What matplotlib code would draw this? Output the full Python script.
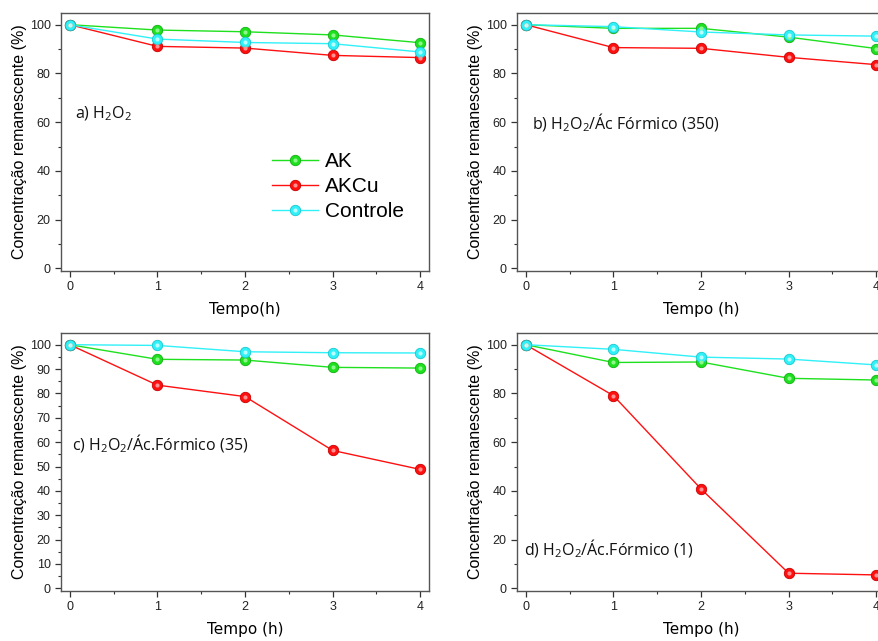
import numpy as np
import matplotlib.pyplot as plt
from matplotlib.ticker import MultipleLocator

plt.rcParams['font.family'] = 'Liberation Sans'

tempo = [0, 1, 2, 3, 4]

# a) H2O2
a_ak = [100, 97.8, 97.1, 95.8, 92.6]
a_akcu = [100, 91.1, 90.4, 87.4, 86.5]
a_ctrl = [100, 94.1, 92.7, 92.2, 88.8]

# b) H2O2 / acido formico (350)
b_ak = [100, 98.5, 98.5, 94.9, 90.2]
b_akcu = [100, 90.6, 90.3, 86.6, 83.6]
b_ctrl = [100, 99.2, 97.0, 95.8, 95.3]

# c) H2O2 / acido formico (35)
c_ak = [100, 94.0, 93.7, 90.7, 90.4]
c_akcu = [100, 83.4, 78.7, 56.6, 48.8]
c_ctrl = [100, 99.7, 97.1, 96.7, 96.6]

# d) H2O2 / acido formico (1)
d_ak = [100, 92.7, 92.9, 86.2, 85.5]
d_akcu = [100, 79.1, 40.8, 6.2, 5.5]
d_ctrl = [100, 98.1, 94.9, 94.1, 91.7]

nomes = ['AK', 'AKCu', 'Controle']
cores = ['#1ee01e', '#ff1010', '#30f0f8']
bordas = ['#10b010', '#c80000', '#18c8d0']
brilho = ['#8cf88c', '#ff9090', '#b8ffff']

paineis = [
    (a_ak, a_akcu, a_ctrl, r'a) $\mathregular{H_2O_2}$', 'Tempo(h)', 20, 10),
    (b_ak, b_akcu, b_ctrl, r'b) $\mathregular{H_2O_2}$/Ác Fórmico (350)', 'Tempo (h)', 20, 10),
    (c_ak, c_akcu, c_ctrl, r'c) $\mathregular{H_2O_2}$/Ác.Fórmico (35)', 'Tempo (h)', 10, 5),
    (d_ak, d_akcu, d_ctrl, r'd) $\mathregular{H_2O_2}$/Ác.Fórmico (1)', 'Tempo (h)', 20, 10),
]
# posicao das anotacoes (fracao dos eixos)
rotulo_pos = [(0.038, 0.61), (0.040, 0.575), (0.030, 0.57), (0.020, 0.165)]

W, H = 879, 641
fig = plt.figure(figsize=(W / 100, H / 100), dpi=100)

# caixas dos eixos em pixels: esquerda, topo
caixas = [(61, 13), (517, 13), (61, 333), (517, 333)]
larg, alt = 368, 258

eixos = []
leg_handles = []
for i, ((x0, y0), (ak, akcu, ctrl, rotulo, xlab, maj, mnr), (tx, ty)) in enumerate(
        zip(caixas, paineis, rotulo_pos)):
    ax = fig.add_axes([x0 / W, (H - y0 - alt) / H, larg / W, alt / H])
    eixos.append(ax)
    for serie, nome, c, b, br in zip([ak, akcu, ctrl], nomes, cores, bordas, brilho):
        ln, = ax.plot(tempo, serie, '-', color=c, lw=1.0, marker='o', ms=7.5,
                      mfc=c, mec=b, mew=0.6, zorder=3)
        hl, = ax.plot(tempo, serie, 'o', ms=3, color=br, mec='none', zorder=4)
        if i == 0:
            leg_handles.append((ln, hl))
    ax.set_xlim(-0.1, 4.1)
    ax.set_ylim(-1.1, 104.8)
    ax.xaxis.set_major_locator(MultipleLocator(1))
    ax.xaxis.set_minor_locator(MultipleLocator(0.5))
    ax.yaxis.set_major_locator(MultipleLocator(maj))
    ax.yaxis.set_minor_locator(MultipleLocator(mnr))
    ax.tick_params(which='both', direction='out', colors='#333333', labelsize=9,
                   labelcolor='#222222')
    ax.tick_params(which='major', length=4, width=0.9)
    ax.tick_params(which='minor', length=2, width=0.8)
    for s in ax.spines.values():
        s.set_color('#555555')
        s.set_linewidth(1.0)
    ax.set_ylabel('Concentração remanescente (%)', fontsize=11.5, labelpad=2)
    ax.set_xlabel(xlab, fontsize=11, family='DejaVu Sans', labelpad=6)
    ax.text(tx, ty, rotulo, transform=ax.transAxes, fontsize=11.5,
            family='Open Sans', va='center', ha='left', color='#111111')

# legenda apenas no primeiro painel
eixos[0].legend(leg_handles, nomes, loc='upper left',
                bbox_to_anchor=(0.545, 0.502), frameon=False, fontsize=15,
                handlelength=2.2, handletextpad=0.35, labelspacing=0.3,
                borderpad=0)

fig.savefig('out.png', dpi=100)
